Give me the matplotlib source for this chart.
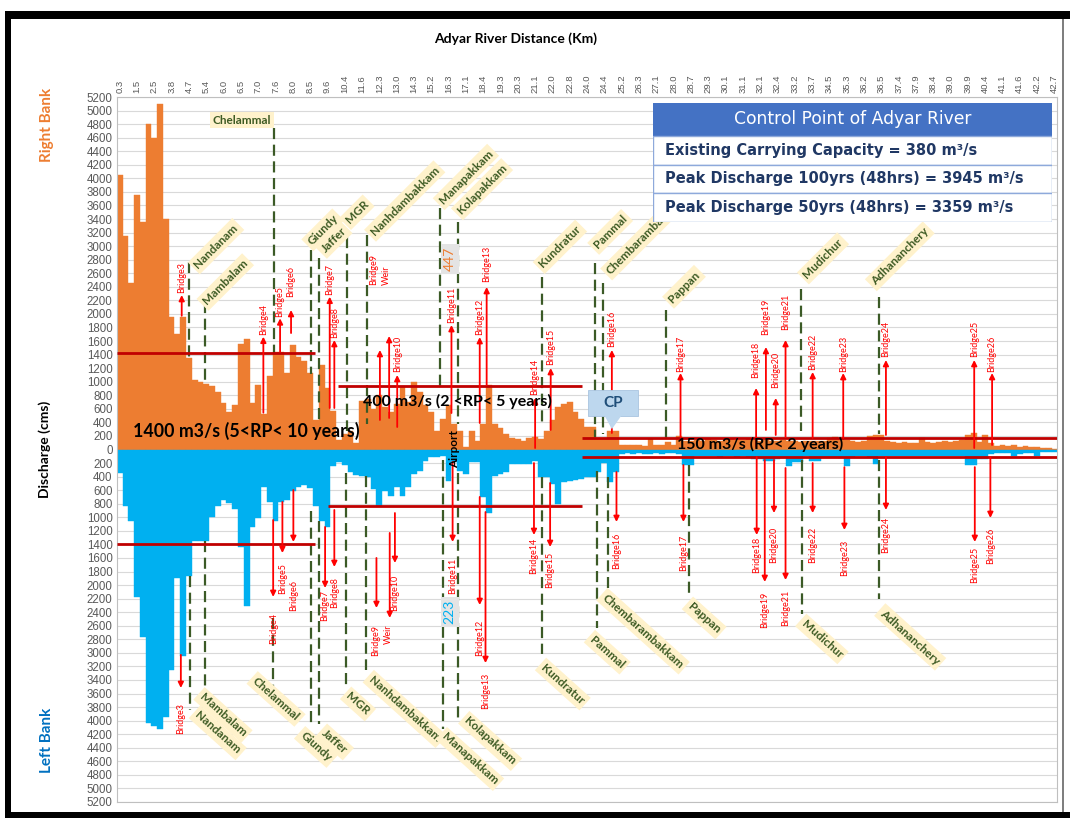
import matplotlib
matplotlib.use('Agg')
import matplotlib.pyplot as plt
from matplotlib.patches import Rectangle, Polygon
import numpy as np

plt.rcParams['font.family'] = ['Lato', 'DejaVu Sans']

km_labels = ['0.3', '1.5', '2.5', '3.8', '4.7', '5.4', '6.0', '6.5', '7.0', '7.6', '8.0', '8.5',
             '9.6', '10.4', '11.6', '12.3', '13.0', '14.3', '15.2', '16.3', '17.1', '18.4',
             '19.3', '20.3', '21.1', '22.0', '22.8', '24.0', '24.4', '25.2', '26.3', '27.1',
             '28.0', '28.7', '29.3', '30.1', '31.1', '32.1', '32.4', '33.2', '33.7', '34.5',
             '35.3', '36.2', '36.5', '37.4', '37.9', '38.4', '39.0', '39.9', '40.4', '41.1',
             '41.6', '42.2', '42.7']

right_bank = [4050, 3150, 2450, 3750, 3350, 4800, 4600, 5100, 3400, 1950,
              1700, 1950, 1350, 1030, 1000, 960, 940, 850, 680, 550,
              650, 1550, 1630, 680, 945, 530, 1080, 1440, 1440, 1130,
              1540, 1360, 1300, 1130, 430, 1240, 905, 570, 140, 230,
              270, 100, 720, 750, 600, 800, 625, 560, 675, 920,
              700, 995, 850, 650, 550, 280, 450, 650, 380, 280,
              40, 280, 130, 380, 945, 380, 310, 230, 170, 150,
              130, 170, 180, 150, 280, 430, 625, 675, 700, 550,
              450, 330, 330, 160, 160, 280, 280, 60, 60, 60,
              70, 50, 150, 60, 60, 110, 60, 200, 130, 120,
              140, 130, 150, 140, 130, 150, 150, 140, 140, 150,
              140, 130, 140, 130, 120, 140, 130, 120, 110, 120,
              130, 120, 130, 170, 180, 150, 140, 120, 110, 120,
              200, 210, 210, 120, 110, 100, 110, 90, 100, 170,
              110, 100, 110, 120, 110, 130, 140, 210, 240, 110,
              210, 100, 50, 60, 50, 70, 40, 50, 40, 30,
              20, 20, 10]

left_bank = [350, 830, 1050, 2180, 2770, 4040, 4080, 4130, 3950, 3250,
             1900, 3050, 1860, 1350, 1350, 1350, 990, 830, 750, 790,
             880, 1440, 2310, 1140, 1010, 560, 780, 1050, 780, 740,
             610, 550, 520, 570, 830, 1060, 1140, 240, 190, 230,
             330, 370, 384, 400, 580, 830, 610, 680, 556, 680,
             556, 360, 310, 170, 110, 110, 90, 460, 190, 310,
             360, 190, 190, 700, 930, 390, 360, 330, 210, 210,
             210, 210, 170, 410, 410, 510, 800, 480, 460, 450,
             430, 400, 400, 330, 200, 480, 330, 60, 50, 60,
             50, 70, 60, 50, 60, 50, 50, 60, 236, 236,
             100, 90, 100, 90, 110, 100, 90, 110, 100, 110,
             140, 140, 170, 170, 140, 120, 250, 180, 180, 90,
             170, 170, 110, 110, 110, 120, 250, 110, 100, 100,
             110, 220, 100, 90, 100, 90, 100, 90, 100, 90,
             100, 90, 100, 90, 100, 90, 100, 236, 236, 140,
             140, 60, 50, 50, 50, 90, 60, 50, 50, 90,
             40, 40, 40]

# return-period threshold lines: (x_start, x_end, level)
threshold_lines = [(-0.5, 33.9, 1420), (-0.5, 33.9, -1390),
                   (37.8, 80.1, 935), (36.1, 80.1, -835),
                   (80.1, 162.5, 168), (80.1, 162.5, -108)]
threshold_texts = [('1400 m3/s (5<RP< 10 years)', 21.9, 270, 12.8),
                   ('400 m3/s (2 <RP< 5 years)', 58.5, 715, 11.5),
                   ('150 m3/s (RP< 2 years)', 111.0, 80, 11.5)]

# places: name, line x, line y0, line y1, label x, label y
top_places = [('Nandanam', 12.0, 2770, 1360, 16.7, 3000),
              ('Mambalam', 14.8, 2176, 945, 18.3, 2470),
              ('Chelammal', 26.7, 4740, 1420, 21.2, 4860),
              ('Giundy', 33.1, 2950, 1120, 35.2, 3240),
              ('Jaffer', 34.5, 2820, 430, 37.1, 3090),
              ('MGR', 39.4, 3136, 280, 41.1, 3500),
              ('Nanhdambakkam', 42.8, 3160, 380, 49.4, 3665),
              ('Manapakkam', 55.5, 3560, 900, 60.0, 4020),
              ('Kolapakkam', 58.7, 3357, 380, 62.8, 3840),
              ('Kundratur', 73.2, 2545, 380, 76.3, 2990),
              ('Pammal', 82.4, 2745, 180, 85.0, 3210),
              ('Chembarambakkam', 83.8, 2450, 235, 91.1, 3160),
              ('Pappan', 94.7, 2053, 90, 97.8, 2400),
              ('Mudichur', 118.0, 2363, 280, 121.9, 2820),
              ('Adhananchery', 131.6, 2250, 235, 135.2, 2850)]
bottom_places = [('Nandanam', 12.2, -1860, -3840, 17.0, -4181),
                 ('Mambalam', 14.8, -1345, -3560, 17.9, -3916),
                 ('Chelammal', 26.6, -2480, -3490, 27.1, -3680),
                 ('Giundy', 33.1, -900, -4080, 34.0, -4388),
                 ('Jaffer', 34.5, -1050, -4050, 37.3, -4314),
                 ('MGR', 39.3, -340, -3530, 41.3, -3754),
                 ('Nanhdambakkam', 42.7, -385, -3260, 49.4, -3827),
                 ('Manapakkam', 56.0, -160, -4120, 60.7, -4565),
                 ('Kolapakkam', 58.6, -340, -3960, 64.2, -4300),
                 ('Kundratur', 73.2, -410, -3020, 76.8, -3460),
                 ('Pammal', 82.7, -310, -2630, 84.5, -2990),
                 ('Chembarambakkam', 84.6, -410, -2040, 90.7, -2680),
                 ('Pappan', 98.7, -236, -2190, 101.3, -2485),
                 ('Mudichur', 118.2, -160, -2430, 121.7, -2795),
                 ('Adhananchery', 131.6, -160, -2200, 137.0, -2765)]

# bridges: label, x, arrow base, arrow head, label edge
top_bridges = [('Bridge3', 10.75, 1973, 2279, 2308), ('Bridge4', 24.9, 543, 1664, 1689),
               ('Bridge5', 27.8, 1442, 1935, 1959), ('Bridge6', 29.7, 1718, 2058, 2254),
               ('Bridge7', 36.4, 612, 2254, 2279), ('Bridge8', 37.2, 612, 1615, 1640),
               ('Bridge9\nWeir', 45.1, 435, 1468, 2426), ('', 46.7, 465, 1674, 0),
               ('Bridge10', 48.1, 332, 1099, 1143), ('Bridge11', 57.5, 538, 1836, 1866),
               ('Bridge12', 62.4, 391, 1659, 1689), ('Bridge13', 63.6, 951, 2397, 2470),
               ('Bridge14', 72.0, 22, 760, 804), ('Bridge15', 74.7, 288, 1202, 1246),
               ('Bridge16', 85.3, 243, 1468, 1516), ('Bridge17', 97.2, 184, 1128, 1148),
               ('Bridge18', 110.3, 37, 907, 1055), ('Bridge19', 112.0, 288, 1512, 1689),
               ('Bridge20', 113.7, 214, 760, 907), ('Bridge21', 115.4, 184, 1615, 1763),
               ('Bridge22', 120.1, 170, 1143, 1173), ('Bridge23', 125.4, 170, 1128, 1148),
               ('Bridge24', 132.8, 214, 1320, 1369), ('Bridge25', 148.1, 22, 1320, 1369),
               ('Bridge26', 151.2, 66, 1128, 1148)]
bottom_bridges = [('Bridge3', 10.6, -3030, -3518, -3739), ('Bridge4', 26.6, -1040, -2175, -2412),
                  ('Bridge5', 28.2, -774, -1527, -1674), ('Bridge6', 30.1, -597, -1364, -1925),
                  ('Bridge7', 35.6, -1143, -2043, -2072), ('Bridge8', 37.2, -892, -1733, -1881),
                  ('Bridge9\nWeir', 44.5, -1600, -2338, -2588), ('', 46.8, -1231, -2485, 0),
                  ('Bridge10', 47.7, -937, -1674, -1851), ('Bridge11', 57.7, -184, -1364, -1600),
                  ('Bridge12', 62.4, -700, -2294, -2515), ('Bridge13', 63.4, -922, -3150, -3297),
                  ('Bridge14', 71.8, -200, -1261, -1305), ('Bridge15', 74.6, -494, -1438, -1512),
                  ('Bridge16', 86.1, -332, -1069, -1232), ('Bridge17', 97.7, -229, -1069, -1261),
                  ('Bridge18', 110.4, -111, -1261, -1291), ('Bridge19', 111.8, -155, -1954, -2103),
                  ('Bridge20', 113.4, -155, -937, -1143), ('Bridge21', 115.4, -273, -1925, -2072),
                  ('Bridge22', 120.1, -200, -937, -1143), ('Bridge23', 125.6, -260, -1187, -1335),
                  ('Bridge24', 132.8, -111, -892, -996), ('Bridge25', 148.2, -260, -1364, -1438),
                  ('Bridge26', 150.9, -111, -1010, -1158)]

table_title = 'Control Point of Adyar River'
table_rows = ['Existing Carrying Capacity = 380 m\u00b3/s',
              'Peak Discharge 100yrs (48hrs) = 3945 m\u00b3/s',
              'Peak Discharge 50yrs (48hrs) = 3359 m\u00b3/s']

ORANGE = '#ED7D31'
BLUE = '#00B0F0'
DARKRED = '#C00000'
GREEN = '#3B5A26'
TICK = '#595959'

fig = plt.figure(figsize=(10.7, 8.18), dpi=100)
fig.patch.set_facecolor('white')
ax = fig.add_axes([116.8 / 1070, 1 - 802 / 818, (1057.3 - 116.8) / 1070, (802 - 97) / 818])

n = len(right_bank)
xs = np.arange(n)
ax.bar(xs, right_bank, width=1.0, color=ORANGE, edgecolor=ORANGE, linewidth=0.3, zorder=2)
ax.bar(xs, -np.array(left_bank), width=1.0, color=BLUE, edgecolor=BLUE, linewidth=0.3, zorder=2)

ax.set_xlim(-0.5, n - 0.5)
ax.set_ylim(-5200, 5200)
yt = np.arange(-5200, 5201, 200)
ax.set_yticks(yt)
ax.set_yticklabels([str(abs(v)) for v in yt], fontsize=8.3, color=TICK, family='Liberation Sans')
ax.xaxis.tick_top()
ax.set_xticks(xs[::3])
ax.set_xticklabels(km_labels, rotation=90, fontsize=6.8, color=TICK, family='Liberation Sans')
ax.tick_params(axis='both', length=0, pad=3)
ax.yaxis.grid(True, color='#D9D9D9', linewidth=0.8)
ax.set_axisbelow(True)
for s in ax.spines.values():
    s.set_color('#BFBFBF')
    s.set_linewidth(0.8)

# threshold lines and texts
for x0, x1, lev in threshold_lines:
    ax.plot([x0, x1], [lev, lev], color=DARKRED, lw=2, zorder=4, solid_capstyle='butt')
for t, tx, ty, fs in threshold_texts:
    ax.text(tx, ty, t, fontsize=fs, fontweight='bold', color='black', ha='center', va='center', zorder=8)

# places
for places, rot in ((top_places, 45), (bottom_places, -42)):
    for name, lx, y0, y1, tx, ty in places:
        ax.plot([lx, lx], [y0, y1], color=GREEN, lw=1.6, linestyle=(0, (5, 2.5)), zorder=3)
        r = 0 if name == 'Chelammal' and places is top_places else rot
        ax.text(tx, ty, name, rotation=r, rotation_mode='anchor', ha='center', va='center',
                fontsize=8.5, fontweight='bold', color='#3E5B24', zorder=7,
                bbox=dict(boxstyle='square,pad=0.25', fc='#FFF2CC', ec='none'))

# bridges
for bridges, top in ((top_bridges, True), (bottom_bridges, False)):
    for name, bx, base, head, ly in bridges:
        ax.annotate('', xy=(bx, head), xytext=(bx, base), zorder=6,
                    arrowprops=dict(arrowstyle='-|>', color='#FF0000', lw=1.3,
                                    mutation_scale=8, shrinkA=0, shrinkB=0))
        if name:
            if '\n' in name:
                ax.text(bx + (0 if top else 1.0), ly, name, rotation=90, color='#FF0000', fontsize=6.5,
                        ha='center', va='bottom' if top else 'top',
                        multialignment='left' if top else 'right', zorder=7, linespacing=1.6)
            else:
                ax.text(bx, ly, name, rotation=90, color='#FF0000', fontsize=6.5,
                        ha='center', va='bottom' if top else 'top', zorder=7)

# special labels
ax.text(57.2, 2810, '447', rotation=90, color=ORANGE, fontsize=10, ha='center', va='center', zorder=7,
        bbox=dict(boxstyle='square,pad=0.2', fc='#E4E4E4', ec='none'))
ax.text(57.2, -2397, '223', rotation=90, color=BLUE, fontsize=10, ha='center', va='center', zorder=7,
        bbox=dict(boxstyle='square,pad=0.2', fc='#E4E4E4', ec='none'))
ax.text(58.1, 0, 'Airport', rotation=90, color='black', fontsize=8.5, fontweight='bold',
        ha='center', va='center', zorder=8)

# CP callout
ax.add_patch(Rectangle((81.2, 500), 8.6, 380, fc='#BDD7EE', ec='#A9C4E0', lw=0.6, zorder=7))
ax.add_patch(Polygon([(84.0, 505), (87.0, 505), (85.3, 300)], closed=True, fc='#BDD7EE', ec='none', zorder=7))
ax.text(85.5, 690, 'CP', fontsize=11, fontweight='bold', color='#1F4E79', ha='center', va='center', zorder=8)

# axis titles
fig.text(516 / 1070, 1 - 39 / 818, 'Adyar River Distance (Km)', fontsize=10, fontweight='bold',
         ha='center', va='center')
fig.text(45 / 1070, 1 - 449 / 818, 'Discharge (cms)', fontsize=10, fontweight='bold', rotation=90,
         ha='center', va='center')
fig.text(47 / 1070, 1 - 125 / 818, 'Right Bank', fontsize=11, fontweight='bold', rotation=90,
         color=ORANGE, ha='center', va='center')
fig.text(47 / 1070, 1 - 740 / 818, 'Left Bank', fontsize=11, fontweight='bold', rotation=90,
         color='#0070C0', ha='center', va='center')

# info table
tab = fig.add_axes([653 / 1070, 1 - 222 / 818, 399 / 1070, 119 / 818])
tab.set_xlim(0, 399)
tab.set_ylim(119, 0)
tab.axis('off')
tab.add_patch(Rectangle((0, 0), 399, 33, fc='#4472C4', ec='#4472C4', lw=1))
tab.text(199.5, 16.5, table_title, color='white', fontsize=12.3, ha='center', va='center',
         family='DejaVu Sans')
rh = (119 - 33) / 3
for i, row in enumerate(table_rows):
    tab.add_patch(Rectangle((0, 33 + i * rh), 399, rh, fc='white', ec='#8EA9DB', lw=1))
    tab.text(12, 33 + (i + 0.5) * rh, row, color='#203864', fontsize=10.5, fontweight='bold',
             ha='left', va='center', family='DejaVu Sans')

# outer frame of the picture
def frame_rect(x0, y0, x1, y1, color):
    fig.add_artist(Rectangle((x0 / 1070, 1 - y1 / 818), (x1 - x0) / 1070, (y1 - y0) / 818,
                             transform=fig.transFigure, fc=color, ec='none', zorder=20))

frame_rect(8, 11, 1070, 19, 'black')
frame_rect(5, 11, 11, 818, 'black')
frame_rect(5, 812, 1070, 818, 'black')
frame_rect(1062, 19, 1064, 812, '#7F7F7F')

fig.savefig('out.png', dpi=100)
